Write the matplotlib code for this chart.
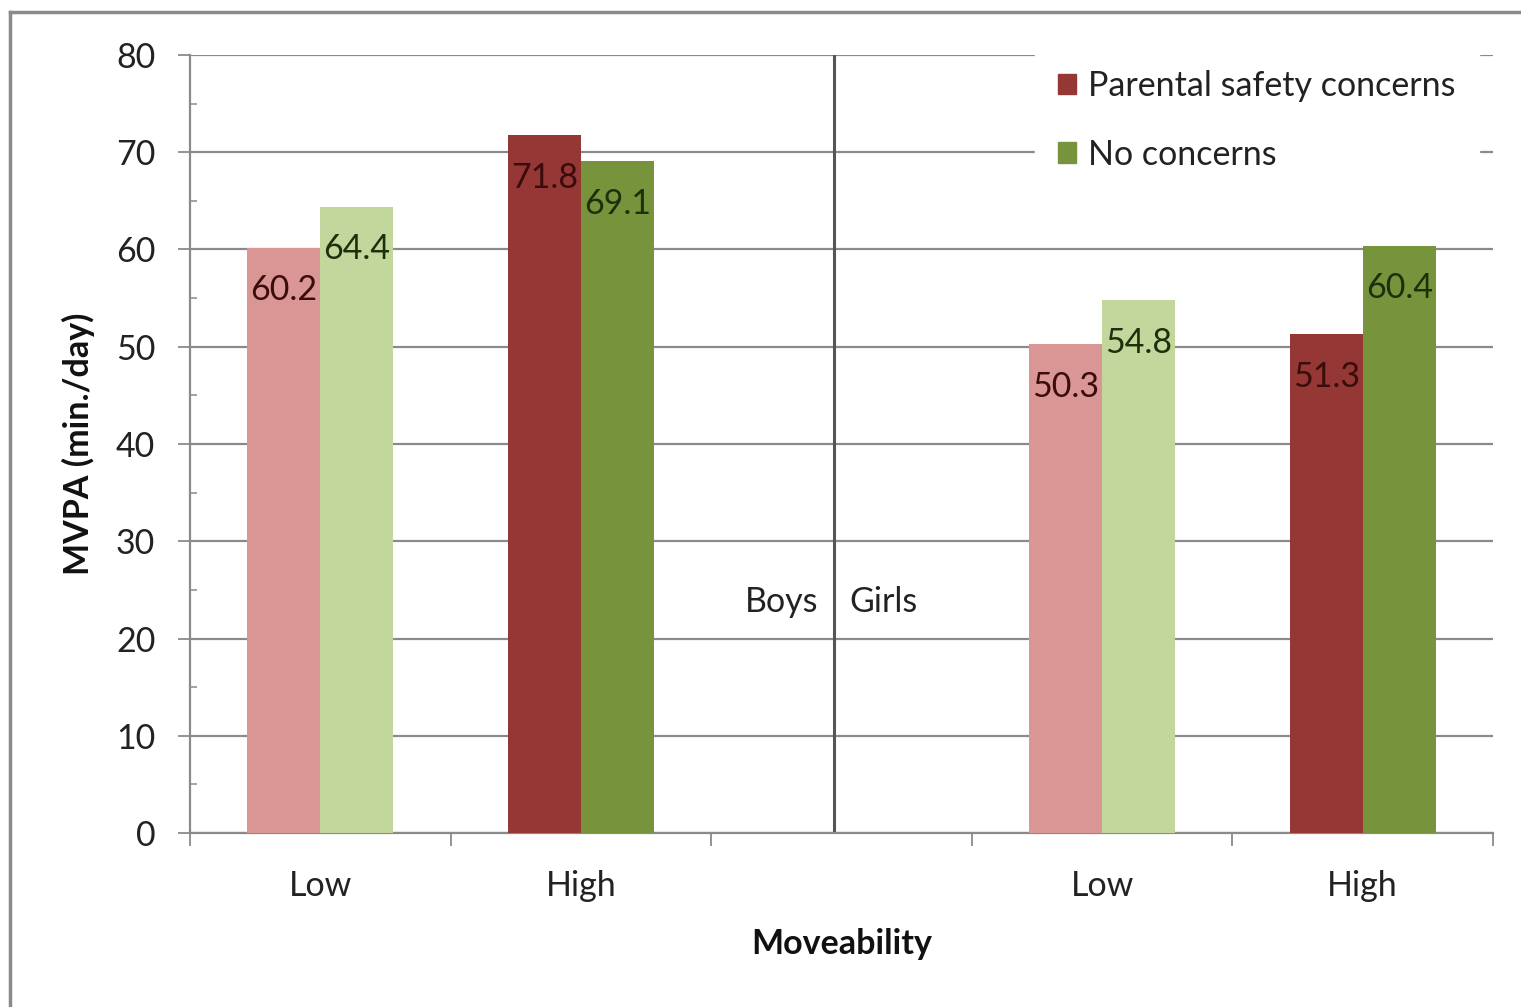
import numpy as np
import matplotlib
matplotlib.use("Agg")
import matplotlib.pyplot as plt
from matplotlib.lines import Line2D
from matplotlib.patches import Patch
from matplotlib.ticker import MultipleLocator, FixedLocator

# ==============================
# data
# ==============================
categories = ["Low", "High", "", "Low", "High"]
concerns = [60.2, 71.8, None, 50.3, 51.3]
no_concerns = [64.4, 69.1, None, 54.8, 60.4]
series_names = ["Parental safety concerns", "No concerns"]
sex_labels = ["Boys", "Girls"]

# colours: light shade for Low, dark shade for High
col_concern = {"Low": "#d99694", "High": "#953735"}
col_none = {"Low": "#c3d69b", "High": "#77933c"}
txt_concern = "#3a0c0c"
txt_none = "#1c300c"
grey = "#8a8a8a"

FS = 24.5
plt.rcParams["font.family"] = ["Lato", "DejaVu Sans"]
plt.rcParams["font.size"] = FS

fig = plt.figure(figsize=(15.21, 10.07), dpi=100)
ax = fig.add_axes([190 / 1521, 1 - 833 / 1007, (1493 - 190) / 1521, (833 - 55) / 1007])

w = 0.28
for i, cat in enumerate(categories):
    if concerns[i] is None:
        continue
    b1 = ax.bar(i - w / 2, concerns[i], width=w, color=col_concern[cat], zorder=3)
    b2 = ax.bar(i + w / 2, no_concerns[i], width=w, color=col_none[cat], zorder=3)
    for bars, c in ((b1, txt_concern), (b2, txt_none)):
        r = bars[0]
        ax.annotate(f"{r.get_height():.1f}",
                    (r.get_x() + r.get_width() / 2, r.get_height()),
                    xytext=(0, -38), textcoords="offset points",
                    ha="center", va="baseline", color=c, fontsize=FS, zorder=4)

ax.set_xlim(-0.5, len(categories) - 0.5)
ax.set_ylim(0, 80)

# y axis
ax.yaxis.set_major_locator(MultipleLocator(10))
ax.yaxis.set_minor_locator(MultipleLocator(5))
ax.grid(axis="y", which="major", color=grey, lw=1.6, zorder=1)
ax.tick_params(axis="y", which="major", direction="out", length=9, width=1.3,
               color=grey, pad=16, labelcolor="#222222")
ax.tick_params(axis="y", which="minor", direction="in", length=5, width=1.1, color=grey)

# x axis: labels at centres, ticks at boundaries
ax.set_xticks(range(len(categories)))
ax.set_xticklabels(categories)
ax.xaxis.set_minor_locator(FixedLocator(np.arange(-0.5, len(categories), 1.0)))
ax.tick_params(axis="x", which="major", length=0, pad=27, labelcolor="#222222")
ax.tick_params(axis="x", which="minor", direction="out", length=9, width=1.3, color=grey)

for s in ["top", "right"]:
    ax.spines[s].set_visible(False)
for s in ["left", "bottom"]:
    ax.spines[s].set_color(grey)
    ax.spines[s].set_linewidth(1.6)

# boys / girls divider
ax.axvline(1.97, 0, 1, color="#555555", lw=2.2, zorder=2)
ax.text(1.91, 23.75, sex_labels[0], ha="right", va="center", color="#222222")
ax.text(2.03, 23.75, sex_labels[1], ha="left", va="center", color="#222222")

ax.set_ylabel("MVPA (min./day)", fontweight="bold", labelpad=15, color="#111111")
ax.set_xlabel("Moveability", fontweight="bold", labelpad=18, color="#111111")

handles = [Patch(color=col_concern["High"]), Patch(color=col_none["High"])]
leg = ax.legend(handles, series_names, loc="upper left",
                bbox_to_anchor=(1035 / 1521, 1 - 47 / 1007), bbox_transform=fig.transFigure,
                borderaxespad=0, frameon=True, framealpha=1, edgecolor="white",
                fancybox=False, handlelength=0.53, handleheight=0.53, handletextpad=0.35,
                labelspacing=1.07, borderpad=0.68, fontsize=FS)
leg.set_zorder(5)
for t in leg.get_texts():
    t.set_color("#222222")

# outer border (only left and top visible in the original)
fig.add_artist(Line2D([10 / 1521, 10 / 1521], [0, 1 - 12 / 1007], color=grey, lw=2.5))
fig.add_artist(Line2D([10 / 1521, 1], [1 - 12 / 1007, 1 - 12 / 1007], color=grey, lw=2.5))

fig.savefig("out.png", dpi=100)
